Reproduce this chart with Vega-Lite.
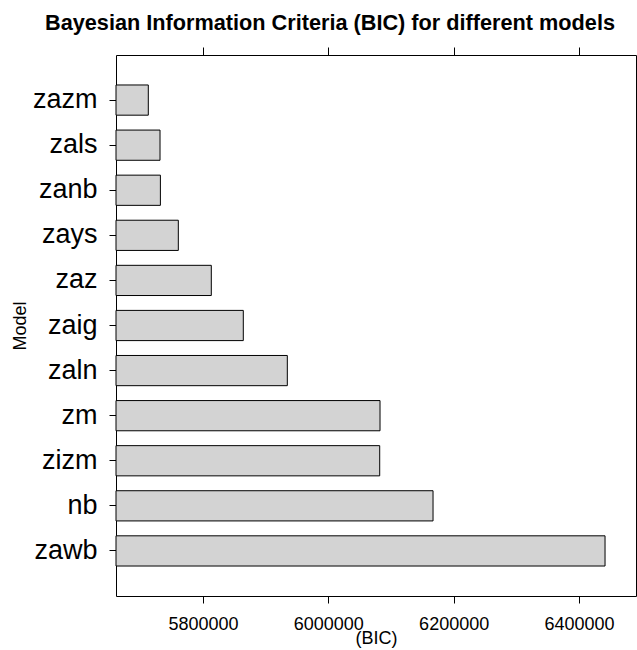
{
  "$schema": "https://vega.github.io/schema/vega-lite/v6.json",
  "autosize": {"type": "none"},
  "padding": {"left": 116, "top": 55, "right": 1, "bottom": 54},
  "width": 520,
  "height": 541,
  "background": "white",
  "title": {
    "text": "Bayesian Information Criteria (BIC) for different models",
    "font": "Liberation Sans",
    "fontSize": 21.7,
    "fontWeight": "bold",
    "color": "black",
    "anchor": "middle",
    "frame": "group",
    "dx": -46,
    "baseline": "alphabetic",
    "offset": -5
  },
  "config": {
    "view": {"stroke": "black", "strokeWidth": 1, "fill": "white"},
    "axis": {
      "domain": false,
      "grid": false,
      "tickColor": "black",
      "tickWidth": 1,
      "labelColor": "black",
      "titleColor": "black",
      "labelFont": "Liberation Sans",
      "titleFont": "Liberation Sans",
      "titleFontWeight": "normal"
    }
  },
  "data": {
    "values": [
      {"Model": "zazm", "BIC": 5712700},
      {"Model": "zals", "BIC": 5731400},
      {"Model": "zanb", "BIC": 5732000},
      {"Model": "zays", "BIC": 5760600},
      {"Model": "zaz", "BIC": 5813250},
      {"Model": "zaig", "BIC": 5864300},
      {"Model": "zaln", "BIC": 5934550},
      {"Model": "zm", "BIC": 6082500},
      {"Model": "zizm", "BIC": 6082000},
      {"Model": "nb", "BIC": 6167100},
      {"Model": "zawb", "BIC": 6441600}
    ]
  },
  "layer": [
    {
      "mark": {"type": "bar", "fill": "#d3d3d3", "stroke": "black", "strokeWidth": 1},
      "encoding": {
        "y": {
          "field": "Model",
          "type": "nominal",
          "sort": null,
          "scale": {"paddingInner": 0.33, "paddingOuter": 0.665},
          "axis": {
            "title": "Model",
            "titleFontSize": 18,
            "titleX": -91,
            "titleBaseline": "alphabetic",
            "labelFontSize": 27,
            "tickSize": 7,
            "labelPadding": 12
          }
        },
        "x": {
          "field": "BIC",
          "type": "quantitative",
          "scale": {"domain": [5661150, 6491000], "zero": false, "nice": false},
          "axis": {
            "orient": "bottom",
            "title": "(BIC)",
            "values": [5800000, 6000000, 6200000, 6400000],
            "format": "d",
            "labelFontSize": 18,
            "titleFontSize": 18,
            "tickSize": 7,
            "labelPadding": 12,
            "titleY": 47,
            "titleBaseline": "alphabetic"
          }
        },
        "x2": {"datum": 5661150}
      }
    },
    {
      "mark": {"type": "bar", "opacity": 0},
      "encoding": {
        "y": {"field": "Model", "type": "nominal", "sort": null},
        "x": {
          "field": "BIC",
          "type": "quantitative",
          "axis": {
            "orient": "top",
            "title": null,
            "labels": false,
            "values": [5800000, 6000000, 6200000, 6400000],
            "tickSize": 8
          }
        },
        "x2": {"datum": 5661150}
      }
    }
  ],
  "resolve": {"axis": {"x": "independent"}}
}
